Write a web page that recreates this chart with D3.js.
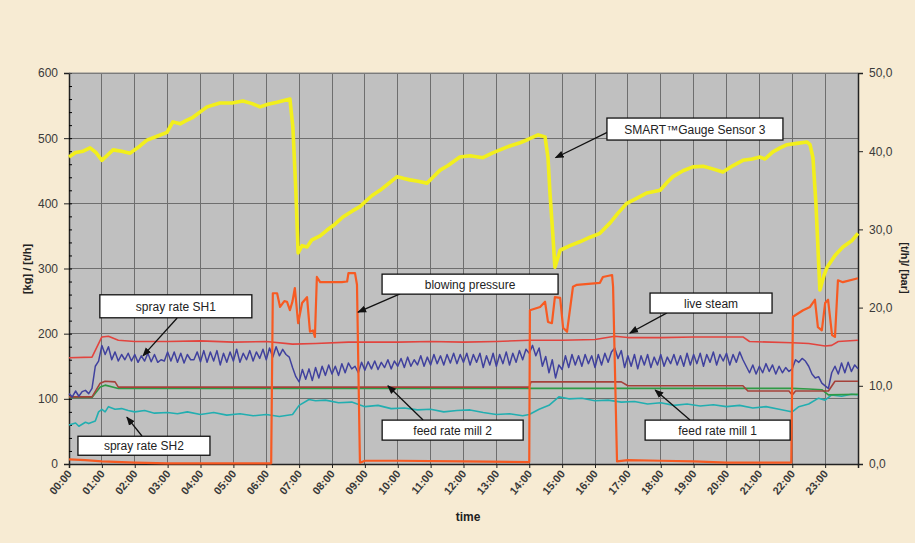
<!DOCTYPE html>
<html><head><meta charset="utf-8">
<script src="https://cdn.jsdelivr.net/npm/d3@7"></script>
<style>
html,body{margin:0;padding:0;background:#f7ebd3;}
svg{display:block;font-family:"Liberation Sans",Arial,sans-serif;}
</style></head>
<body>
<svg id="chart" width="915" height="543"></svg>
<script>
// ---------- DATA ----------
const timeLabels = ["00:00","01:00","02:00","03:00","04:00","05:00","06:00","07:00","08:00","09:00","10:00","11:00","12:00","13:00","14:00","15:00","16:00","17:00","18:00","19:00","20:00","21:00","22:00","23:00"];
const leftTicks = [0,100,200,300,400,500,600];
const rightTicks = [0,10,20,30,40,50];
const rightTickLabels = ["0,0","10,0","20,0","30,0","40,0","50,0"];

// SMART Gauge Sensor 3 (yellow)
const gaugeHours = [0,0.2,0.43,0.64,0.82,1.0,1.19,1.34,1.6,1.86,2.16,2.37,2.68,2.98,3.16,3.38,3.56,3.77,4.2,4.59,4.96,5.29,5.57,5.81,6.05,6.33,6.72,6.81,6.9,6.97,7.09,7.24,7.39,7.64,7.85,8.09,8.33,8.61,8.85,9.0,9.22,9.46,9.76,9.98,10.19,10.37,10.62,10.89,11.07,11.29,11.53,11.89,12.2,12.59,12.87,13.11,13.41,13.72,13.96,14.27,14.48,14.57,14.63,14.72,14.78,14.94,15.24,15.54,15.85,16.15,16.46,16.7,16.97,17.28,17.58,17.98,18.19,18.37,18.68,18.98,19.29,19.5,19.89,20.2,20.5,20.78,21.02,21.17,21.41,21.63,21.84,22.14,22.45,22.54,22.63,22.72,22.84,22.97,23.06,23.3,23.54,23.82,24.0];
const gaugeValues = [471,478,480,485,478,466,475,482,480,477,488,497,503,509,525,522,527,532,548,554,554,557,553,548,552,555,560,517,420,324,335,333,344,350,359,368,379,388,395,402,412,420,432,441,438,436,434,431,440,451,458,471,473,470,477,482,488,493,498,505,502,470,416,350,302,328,335,341,348,354,370,385,400,408,416,420,432,441,450,456,457,454,448,458,466,468,471,468,479,485,490,492,494,490,470,400,267,290,302,320,333,343,354];

// blowing pressure (orange)
const blowHours = [0,0.5,1,2,3,6.15,6.2,6.33,6.42,6.55,6.63,6.72,6.8,6.87,6.97,7.09,7.24,7.33,7.42,7.48,7.54,7.64,8.3,8.46,8.5,8.7,8.76,8.85,9.0,10,12,14.0,14.02,14.33,14.48,14.57,14.69,14.78,14.94,15.03,15.15,15.33,15.45,16.15,16.24,16.52,16.55,16.67,17,18,19,20,21.97,22.02,22.33,22.54,22.69,22.78,22.9,23.0,23.09,23.21,23.3,23.39,23.54,24];
const blowValues = [7,6,4,2,1,1,262,262,241,250,249,236,250,270,216,247,256,203,205,195,287,279,279,280,293,293,275,2,5,5,4,3,236,241,249,218,216,256,255,209,203,272,275,278,287,290,272,4,6,5,4,2,2,226,236,241,252,210,205,247,252,198,195,282,279,285];

// live steam (red)
const steamHours = [0,0.7,1.0,1.2,1.5,2,3,4,5,6,6.8,7.5,8.5,10,11,12,13,14,15,16,16.6,17,18,19,20,20.5,20.7,22,22.5,23,23.2,23.4,24];
const steamValues = [163,164,195,196,190,188,188,189,187,188,184,185,187,187,188,187,188,190,190,191,196,194,194,195,195,195,188,186,185,181,182,188,190];

// spray rate SH1 (blue), sampled every 0.1 h from 00:00
const sh1Step = 0.1;
const sh1Values = [108,103,112,104,111,113,108,116,150,158,
182,168,180,160,172,158,168,160,170,158,
168,156,166,158,170,157,168,156,160,158,
172,158,172,156,170,155,168,160,160,172,
157,174,156,172,158,174,152,170,156,172,
158,176,156,170,160,174,158,172,162,176,
160,178,164,180,166,176,168,164,148,134,
126,145,130,146,128,148,132,150,136,152,
138,150,136,154,140,155,146,150,140,156,
144,157,146,158,145,156,148,160,146,158,
150,162,148,164,150,160,152,166,150,164,
152,168,154,166,152,168,155,170,154,168,
156,170,152,168,156,170,148,166,152,170,
150,168,154,172,152,170,156,174,160,176,
170,182,166,178,150,165,140,160,132,152,
145,166,148,168,152,166,150,168,154,166,
148,168,152,170,156,172,178,162,174,148,
166,150,168,146,166,152,168,148,164,152,
168,150,164,154,168,152,166,150,170,152,
168,154,170,150,168,156,172,152,168,158,
170,152,168,156,172,160,150,140,152,138,
150,140,154,142,152,138,150,140,148,142,
146,160,156,162,158,150,138,132,134,124,
120,116,140,150,138,155,140,156,142,152,
146];

// spray rate SH2 (teal)
const sh2Hours = [0,0.2,0.3,0.5,0.6,0.8,0.9,1.0,1.1,1.2,1.4,1.6,1.8,2.0,2.3,2.6,3.0,3.3,3.6,4.0,4.4,4.8,5.2,5.6,6.0,6.4,6.8,7.0,7.3,7.5,7.8,8.2,8.6,9.0,9.4,9.8,10.2,10.6,11.0,11.4,11.8,12.2,12.6,13.0,13.4,13.8,14.0,14.3,14.6,14.9,15.2,15.6,16.0,16.4,16.8,17.2,17.6,18.0,18.4,18.8,19.2,19.6,20.0,20.4,20.8,21.2,21.6,21.9,22.0,22.2,22.5,22.8,23.0,23.2,23.5,23.8,24.0];
const sh2Values = [60,63,58,64,62,66,80,84,80,88,84,85,82,80,82,78,79,77,80,76,79,75,77,74,76,73,76,90,99,97,98,94,95,88,90,85,86,83,84,80,82,83,79,76,77,74,76,84,90,103,100,101,97,98,95,96,92,94,90,92,89,91,88,90,86,88,84,81,80,88,92,101,98,106,104,107,106];

// feed rate mill 2 (green)
const mill2Hours = [0,0.7,0.95,1.1,1.5,22.0,22.5,22.9,23.1,24];
const mill2Values = [102,102,118,121,116,116,115,114,106,107];

// feed rate mill 1 (brown)
const mill1Hours = [0,0.7,0.95,1.1,1.4,1.5,14.0,14.05,16.8,17.0,20.5,20.65,21.9,22.0,22.1,23.1,23.3,24];
const mill1Values = [103,103,124,127,126,118,118,126,126,120,120,112,112,106,112,112,127,127];

// annotation boxes (data coordinates: hour, left-axis value)
const annotations = [
  {label:"SMART™Gauge Sensor 3", cx:19.04, cy:514, w:176, h:22, from:[16.37,509], to:[14.80,470]},
  {label:"blowing pressure",      cx:12.2,  cy:276, w:176, h:20, from:[10.07,261], to:[8.79,233]},
  {label:"spray rate SH1",        cx:3.25,  cy:242, w:152, h:23, from:[3.29,224],  to:[2.25,166]},
  {label:"live steam",            cx:19.53, cy:247, w:122, h:20, from:[18.19,232], to:[17.06,201]},
  {label:"spray rate SH2",        cx:2.28,  cy:28,  w:132, h:19, from:[2.22,43],   to:[1.76,72]},
  {label:"feed rate mill 2",      cx:11.67, cy:52,  w:141, h:20, from:[10.77,67.5],to:[9.70,120]},
  {label:"feed rate mill 1",      cx:19.73, cy:52,  w:145, h:20, from:[18.89,67.5],to:[17.83,113.5]}
];

// ---------- CHART ----------
const svg = d3.select("#chart");
const L = 69, R = 858, T = 73, B = 464;
const x = d3.scaleLinear().domain([0,24]).range([L,R]);
const y = d3.scaleLinear().domain([0,600]).range([B,T]);
const y2 = d3.scaleLinear().domain([0,50]).range([B,T]);

svg.append("rect").attr("width",915).attr("height",543).attr("fill","#f7ebd3");
svg.append("rect").attr("x",L).attr("y",T).attr("width",R-L).attr("height",B-T).attr("fill","#c0c0c0");

// grid
const hourIdx = timeLabels.map((d,i)=>i);
svg.append("g").selectAll("line").data(hourIdx.slice(1)).join("line")
  .attr("x1",d=>x(d)).attr("x2",d=>x(d)).attr("y1",T).attr("y2",B)
  .attr("stroke","#6e6e6e").attr("stroke-width",1).attr("shape-rendering","crispEdges");
svg.append("g").selectAll("line").data(leftTicks.slice(1)).join("line")
  .attr("x1",L).attr("x2",R).attr("y1",d=>y(d)).attr("y2",d=>y(d))
  .attr("stroke","#6e6e6e").attr("stroke-width",1).attr("shape-rendering","crispEdges");

// axes
const axL = d3.axisLeft(y).tickValues(leftTicks).tickSize(5).tickPadding(6).tickFormat(d3.format("d"));
const gL = svg.append("g").attr("transform",`translate(${L},0)`).call(axL);
const axL2 = d3.axisRight(y).tickValues(d3.range(0,601,20)).tickSize(3).tickFormat("");
svg.append("g").attr("transform",`translate(${L},0)`).call(axL2).call(g=>g.select(".domain").remove());
const axR = d3.axisRight(y2).tickValues(rightTicks).tickSize(5).tickPadding(6).tickFormat((d,i)=>rightTickLabels[i]);
const gR = svg.append("g").attr("transform",`translate(${R},0)`).call(axR);
const axB = d3.axisBottom(x).tickValues(hourIdx).tickSize(4).tickFormat((d,i)=>timeLabels[i]);
const gB = svg.append("g").attr("transform",`translate(0,${B})`).call(axB);
[gL,gR,gB].forEach(g=>{
  g.select(".domain").attr("stroke","#222").attr("stroke-width",1.5);
  g.selectAll(".tick line").attr("stroke","#222");
  g.selectAll("text").attr("font-size",12).attr("fill","#3a3a3a").attr("font-family","Liberation Sans, Arial, sans-serif");
});
svg.append("line").attr("x1",L).attr("x2",R).attr("y1",T).attr("y2",T).attr("stroke","#888").attr("stroke-width",1);
gB.selectAll("text").attr("font-size",11).attr("font-weight","bold")
  .attr("text-anchor","end").attr("dx",0).attr("dy",0)
  .attr("transform",function(){const t=d3.select(this.parentNode); return "translate(3,10) rotate(-50)";});
gB.selectAll("text").attr("y",0).attr("x",0);

// axis titles
svg.append("text").attr("x",468).attr("y",521).attr("text-anchor","middle")
  .attr("font-size",12).attr("font-weight","bold").attr("fill","#222").text("time");
svg.append("text").attr("transform","translate(31,269) rotate(-90)").attr("text-anchor","middle")
  .attr("font-size",11).attr("font-weight","bold").attr("fill","#222").text("[kg] / [t/h]");
svg.append("text").attr("transform","translate(901,268) rotate(90)").attr("text-anchor","middle")
  .attr("font-size",11).attr("font-weight","bold").attr("fill","#222").text("[t/h]/ [bar]");

// lines
const line = d3.line().x(d=>x(d[0])).y(d=>y(d[1]));
const zipS = (hs,vs)=>hs.map((h,i)=>[h,vs[i]]);
const plot = svg.append("g");
function drawSeries(data,color,width){
  plot.append("path").datum(data).attr("d",line).attr("fill","none")
    .attr("stroke",color).attr("stroke-width",width).attr("stroke-linejoin","round");
}
drawSeries(zipS(steamHours,steamValues),"#e2443e",1.6);
drawSeries(zipS(sh2Hours,sh2Values),"#22aeb0",1.6);
drawSeries(zipS(mill2Hours,mill2Values),"#2f9a45",1.6);
drawSeries(zipS(mill1Hours,mill1Values),"#a5413a",1.6);
drawSeries(sh1Values.map((v,i)=>[i*sh1Step,v]),"#40419e",1.5);
drawSeries(zipS(blowHours,blowValues),"#f75a22",2.2);
drawSeries(zipS(gaugeHours,gaugeValues),"#f2ef1c",3.6);

// annotations
const defs = svg.append("defs");
defs.append("marker").attr("id","ah").attr("viewBox","0 0 10 10").attr("refX",9).attr("refY",5)
  .attr("markerWidth",9).attr("markerHeight",9).attr("markerUnits","userSpaceOnUse").attr("orient","auto")
  .append("path").attr("d","M0,1 L10,5 L0,9 Z").attr("fill","#111");
const ann = svg.append("g");
annotations.forEach(a=>{
  ann.append("line").attr("x1",x(a.from[0])).attr("y1",y(a.from[1]))
    .attr("x2",x(a.to[0])).attr("y2",y(a.to[1]))
    .attr("stroke","#111").attr("stroke-width",1.3).attr("marker-end","url(#ah)");
  ann.append("rect").attr("x",x(a.cx)-a.w/2).attr("y",y(a.cy)-a.h/2).attr("width",a.w).attr("height",a.h)
    .attr("fill","#ffffff").attr("stroke","#111").attr("stroke-width",1.3);
  ann.append("text").attr("x",x(a.cx)).attr("y",y(a.cy)+4.5).attr("text-anchor","middle")
    .attr("font-size",12).attr("fill","#222").text(a.label);
});
</script>
</body></html>
